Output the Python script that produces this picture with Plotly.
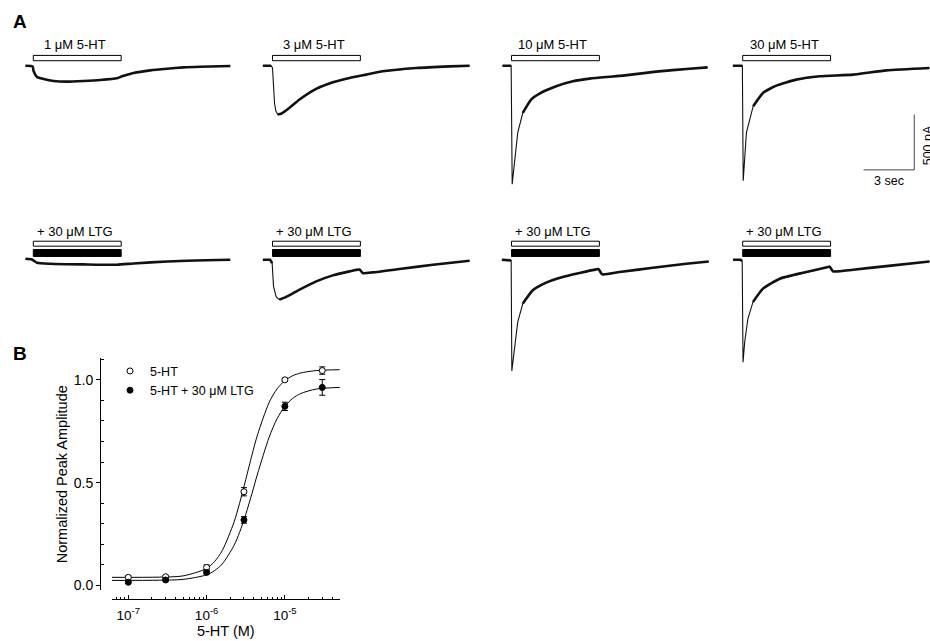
import plotly.graph_objects as go

# ---------------- DATA ----------------
# Panel A: whole-cell currents, time (s) relative to 5-HT application onset, current (pA)
conc_labels = ["1 μM 5-HT", "3 μM 5-HT", "10 μM 5-HT", "30 μM 5-HT"]
ltg_label = "+ 30 μM LTG"
app_start = 0.0   # s
app_end = 5.2     # s

ctrl_t1 = [-0.47, -0.04, 0.02, 0.22, 0.61, 1.20, 1.99, 2.98, 3.96, 4.95, 5.25, 5.93, 6.92, 7.91, 8.89, 9.88, 11.66]
ctrl_i1 = [0, -6, -51, -102, -120, -138, -144, -138, -129, -114, -96, -66, -42, -27, -15, -9, -3]

ctrl_t2 = [-0.57, -0.08, 0.0, 0.06, 0.12, 0.20, 0.31, 0.51, 1.01, 1.60, 2.58, 3.57, 4.56, 5.55, 6.53, 8.51, 10.48, 11.66]
ctrl_i2 = [0, 0, -20, -200, -340, -410, -441, -435, -381, -306, -210, -150, -111, -81, -51, -21, -6, 0]

ctrl_t3 = [-0.53, -0.02, 0.04, 0.18, 0.37, 0.67, 1.16, 1.66, 2.64, 3.63, 4.62, 5.60, 6.59, 8.56, 10.53, 11.60]
ctrl_i3 = [0, 0, -1071, -846, -606, -426, -306, -252, -186, -141, -117, -102, -90, -54, -27, -15]

ctrl_t4 = [-0.58, -0.02, 0.03, 0.22, 0.62, 1.20, 1.99, 3.17, 4.56, 6.53, 8.51, 11.05]
ctrl_i4 = [0, 0, -1041, -606, -366, -246, -180, -126, -96, -81, -42, -21]

ltg_t1 = [-0.47, -0.08, 0.22, 1.01, 2.98, 4.95, 5.93, 7.91, 11.66]
ltg_i1 = [9, 3, -27, -36, -42, -45, -33, -15, 0]

ltg_t2 = [-0.57, -0.14, -0.02, 0.06, 0.22, 0.41, 0.81, 1.60, 2.59, 3.57, 4.56, 5.15, 5.34, 5.93, 7.51, 9.49, 11.66]
ltg_i2 = [0, 0, -30, -240, -336, -360, -336, -270, -195, -141, -105, -88, -120, -114, -84, -45, -9]

ltg_t3 = [-0.57, -0.12, -0.02, 0.02, 0.18, 0.37, 0.67, 1.26, 2.05, 3.03, 4.02, 5.01, 5.15, 5.37, 6.39, 8.36, 10.34, 11.67]
ltg_i3 = [0, 0, -6, -1005, -801, -561, -396, -276, -207, -156, -120, -87, -85, -132, -111, -72, -36, -15]

ltg_t4 = [-0.57, -0.14, -0.03, 0.02, 0.12, 0.31, 0.61, 1.20, 2.19, 3.57, 5.05, 5.15, 5.34, 6.53, 8.50, 11.05]
ltg_i4 = [0, 0, -9, -927, -741, -531, -381, -261, -171, -117, -66, -62, -105, -90, -57, -15]

scale_sec = 3      # s
scale_pA = 500     # pA

# Panel B: concentration-response
conc_M = [1e-7, 3e-7, 1e-6, 3e-6, 1e-5, 3e-5]
amp_ctrl = [0.040, 0.043, 0.088, 0.456, 1.000, 1.045]
err_ctrl = [0.008, 0.006, 0.012, 0.020, 0.008, 0.018]
amp_ltg = [0.016, 0.027, 0.064, 0.319, 0.871, 0.963]
err_ltg = [0.006, 0.006, 0.008, 0.016, 0.020, 0.038]

fit_logx = [-7.21, -6.6, -6.3, -6.0, -5.9, -5.8, -5.65, -5.58, -5.5, -5.42, -5.35, -5.2, -5.1, -5.0, -4.9, -4.8, -4.6, -4.30]
fit_ctrl = [0.040, 0.041, 0.047, 0.083, 0.116, 0.170, 0.308, 0.398, 0.515, 0.635, 0.732, 0.891, 0.956, 0.996, 1.020, 1.033, 1.045, 1.049]
fit_ltg = [0.025, 0.026, 0.030, 0.052, 0.072, 0.105, 0.195, 0.257, 0.346, 0.448, 0.542, 0.722, 0.811, 0.871, 0.910, 0.933, 0.955, 0.963]

legend_names = ["5-HT", "5-HT + 30 μM LTG"]
xaxis_title = "5-HT (M)"
yaxis_title = "Normalized Peak Amplitude"

# ---------------- LAYOUT HELPERS ----------------
W, H = 930, 641
FONT = "Liberation Sans, Arial, sans-serif"
PX_PER_S = 16.9
PA_PER_PX = 9.0
col_onset_px = [33.3, 272.5, 511.5, 742.7]
TRACE_COLOR = "#111111"


def px_x(p):
    return p / W


def px_y(p):
    return 1 - p / H


fig = go.Figure()
layout = dict(
    width=W, height=H, margin=dict(l=0, r=0, t=0, b=0),
    paper_bgcolor="white", plot_bgcolor="rgba(0,0,0,0)",
    font=dict(family=FONT, color="black"),
    showlegend=True,
)

ctrl_t = [ctrl_t1, ctrl_t2, ctrl_t3, ctrl_t4]
ctrl_i = [ctrl_i1, ctrl_i2, ctrl_i3, ctrl_i4]
ltg_t = [ltg_t1, ltg_t2, ltg_t3, ltg_t4]
ltg_i = [ltg_i1, ltg_i2, ltg_i3, ltg_i4]

rows = [
    dict(top=30, bot=200, base=66),    # control row (pixels)
    dict(top=215, bot=378, base=261),  # LTG row
]

shapes = []
annotations = []


def add_recording(tt, ii, xr, yr):
    peak_idx = min(range(len(ii)), key=lambda j: ii[j])
    peak = ii[peak_idx]
    if peak > -250:
        # small, slow responses: the whole record is a thick noisy line
        fig.add_trace(go.Scatter(x=tt, y=ii, mode="lines", xaxis=xr, yaxis=yr,
                                 line=dict(color=TRACE_COLOR, width=2.6, shape="spline", smoothing=0.5),
                                 showlegend=False, hoverinfo="skip"))
        return
    # thin line for the whole record (fast activation phase appears thin)
    fig.add_trace(go.Scatter(x=tt, y=ii, mode="lines", xaxis=xr, yaxis=yr,
                             line=dict(color=TRACE_COLOR, width=1.1), showlegend=False, hoverinfo="skip"))
    start = peak_idx
    if peak < -600:
        start = next(j for j in range(peak_idx, len(ii)) if ii[j] > 0.45 * peak)
    pre = [j for j in range(len(tt)) if tt[j] < 0]
    fig.add_trace(go.Scatter(x=[tt[j] for j in pre], y=[ii[j] for j in pre], mode="lines", xaxis=xr, yaxis=yr,
                             line=dict(color=TRACE_COLOR, width=2.6), showlegend=False, hoverinfo="skip"))
    fig.add_trace(go.Scatter(x=tt[start:], y=ii[start:], mode="lines", xaxis=xr, yaxis=yr,
                             line=dict(color=TRACE_COLOR, width=2.6, shape="spline", smoothing=0.5),
                             showlegend=False, hoverinfo="skip"))


for r, row in enumerate(rows):
    for c in range(4):
        k = r * 4 + c + 1
        L = col_onset_px[c] - PX_PER_S * 1.0
        R = min(L + 13.3 * PX_PER_S, W)
        t_max = -1.0 + (R - L) / PX_PER_S
        ymin = -(row["bot"] - row["base"]) * PA_PER_PX
        ymax = (row["base"] - row["top"]) * PA_PER_PX
        xa = dict(domain=[px_x(L), px_x(R)], range=[-1.0, t_max], visible=False,
                  anchor=f"y{k}", showgrid=False, zeroline=False)
        ya = dict(domain=[px_y(row["bot"]), px_y(row["top"])], range=[ymin, ymax], visible=False,
                  anchor=f"x{k}", showgrid=False, zeroline=False)
        layout["xaxis" if k == 1 else f"xaxis{k}"] = xa
        layout["yaxis" if k == 1 else f"yaxis{k}"] = ya
        tt = ctrl_t[c] if r == 0 else ltg_t[c]
        ii = ctrl_i[c] if r == 0 else ltg_i[c]
        xr = f"x{k}"
        yr = f"y{k}"
        add_recording(tt, ii, xr, yr)
        if r == 0:
            shapes.append(dict(type="rect", xref=xr, yref=yr, x0=app_start, x1=app_end, y0=45, y1=93,
                               line=dict(color="black", width=1), fillcolor="white"))
            annotations.append(dict(text=conc_labels[c], xref=xr, yref=yr, x=(app_start + app_end) / 2 - 0.15,
                                    y=189, showarrow=False, xanchor="center", yanchor="middle",
                                    font=dict(size=13, family=FONT)))
        else:
            shapes.append(dict(type="rect", xref=xr, yref=yr, x0=app_start, x1=app_end, y0=123, y1=168,
                               line=dict(color="black", width=1), fillcolor="white"))
            shapes.append(dict(type="rect", xref=xr, yref=yr, x0=app_start, x1=app_end, y0=30, y1=93,
                               line=dict(color="black", width=1), fillcolor="black"))
            annotations.append(dict(text=ltg_label, xref=xr, yref=yr, x=(app_start + app_end) / 2 - 0.15,
                                    y=255, showarrow=False, xanchor="center", yanchor="middle",
                                    font=dict(size=13, family=FONT)))

# scale bar in the 30 μM control axes
sb_t_end = 10.15
sb_i_low = -942
shapes.append(dict(type="line", xref="x4", yref="y4", x0=sb_t_end - scale_sec, x1=sb_t_end,
                   y0=sb_i_low, y1=sb_i_low, line=dict(color="#444", width=1)))
shapes.append(dict(type="line", xref="x4", yref="y4", x0=sb_t_end, x1=sb_t_end,
                   y0=sb_i_low, y1=sb_i_low + scale_pA, line=dict(color="#444", width=1)))
annotations.append(dict(text=f"{scale_sec} sec", xref="x4", yref="y4", x=sb_t_end - scale_sec / 2,
                        y=sb_i_low - 100, showarrow=False, xanchor="center", yanchor="middle",
                        font=dict(size=12.5, family=FONT)))
annotations.append(dict(text=f"{scale_pA} pA", xref="paper", yref="paper", x=px_x(928), y=px_y(146),
                        xanchor="center", yanchor="middle",
                        textangle=-90, showarrow=False, font=dict(size=12.5, family=FONT)))

# panel letters
annotations.append(dict(text="<b>A</b>", xref="paper", yref="paper", x=px_x(20), y=px_y(22),
                        xanchor="center", yanchor="middle",
                        showarrow=False, font=dict(size=19, family=FONT)))
annotations.append(dict(text="<b>B</b>", xref="paper", yref="paper", x=px_x(20), y=px_y(355),
                        xanchor="center", yanchor="middle",
                        showarrow=False, font=dict(size=19, family=FONT)))

# ---------------- PANEL B ----------------
fit_x = [10 ** v for v in fit_logx]
fig.add_trace(go.Scatter(x=fit_x, y=fit_ctrl, mode="lines", xaxis="x9", yaxis="y9",
                         line=dict(color="black", width=1, shape="spline", smoothing=0.8),
                         showlegend=False, hoverinfo="skip"))
fig.add_trace(go.Scatter(x=fit_x, y=fit_ltg, mode="lines", xaxis="x9", yaxis="y9",
                         line=dict(color="black", width=1, shape="spline", smoothing=0.8),
                         showlegend=False, hoverinfo="skip"))
fig.add_trace(go.Scatter(x=conc_M, y=amp_ctrl, mode="markers", xaxis="x9", yaxis="y9",
                         name=legend_names[0],
                         error_y=dict(type="data", array=err_ctrl, color="black", thickness=1, width=3),
                         marker=dict(symbol="circle", size=6, color="white", line=dict(color="black", width=1))))
fig.add_trace(go.Scatter(x=conc_M, y=amp_ltg, mode="markers", xaxis="x9", yaxis="y9",
                         name=legend_names[1],
                         error_y=dict(type="data", array=err_ltg, color="black", thickness=1, width=3),
                         marker=dict(symbol="circle", size=6, color="black", line=dict(color="black", width=1))))

x_major = [1e-7, 1e-6, 1e-5]
x_major_text = ["10<sup>-7</sup>", "10<sup>-6</sup>", "10<sup>-5</sup>"]
x_minor = [7e-8, 8e-8, 9e-8] + [m * 1e-7 for m in range(2, 10)] + [m * 1e-6 for m in range(2, 10)] + [2e-5, 3e-5, 4e-5, 5e-5]

layout["xaxis9"] = dict(
    type="log", domain=[px_x(111.7), px_x(340)], range=[-7.212, -4.296],
    anchor="free", position=px_y(602.3), showline=True, linecolor="black", linewidth=1,
    ticks="inside", ticklen=4, tickcolor="black", tickvals=x_major, ticktext=x_major_text,
    tickfont=dict(size=13.5, family=FONT), ticklabelstandoff=3,
    minor=dict(ticks="inside", ticklen=2.5, tickcolor="black", tickvals=x_minor, showgrid=False),
    showgrid=False, zeroline=False,
    title=dict(text=xaxis_title, font=dict(size=14.5, family=FONT), standoff=2),
)
layout["yaxis9"] = dict(
    domain=[px_y(593), px_y(360)], range=[-0.0227, 1.1045],
    anchor="free", position=px_x(100), showline=True, linecolor="black", linewidth=1,
    ticks="outside", ticklen=4, tickcolor="black", tickvals=[0, 0.5, 1.0], ticktext=["0.0", "0.5", "1.0"],
    tickfont=dict(size=14, family=FONT),
    minor=dict(ticks="inside", ticklen=2.5, tickcolor="black",
               tickvals=[0.1, 0.2, 0.3, 0.4, 0.6, 0.7, 0.8, 0.9, 1.1], showgrid=False),
    showgrid=False, zeroline=False,
    title=dict(text=yaxis_title, font=dict(size=14.5, family=FONT), standoff=1),
)

layout["legend"] = dict(x=px_x(110), y=px_y(358), xanchor="left", yanchor="top",
                        bgcolor="rgba(0,0,0,0)", font=dict(size=12.5, family=FONT),
                        tracegroupgap=0, itemwidth=30)
layout["shapes"] = shapes
layout["annotations"] = annotations

fig.update_layout(**layout)
fig.write_html("out.html")
